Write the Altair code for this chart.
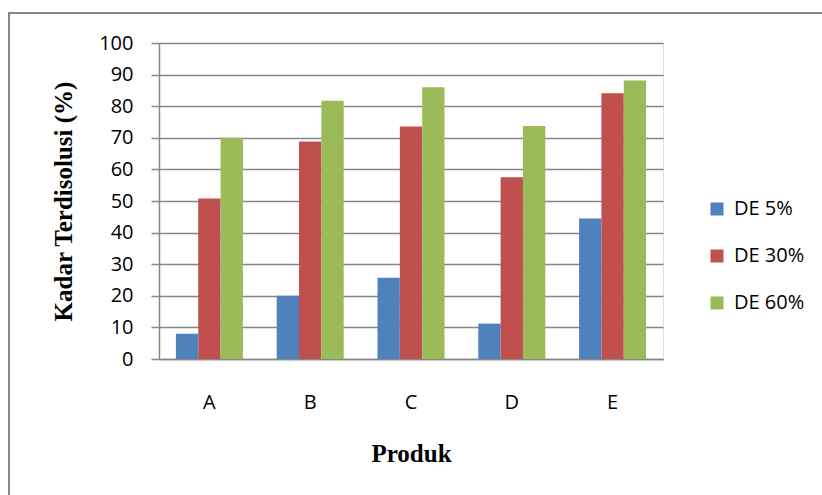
import altair as alt
import pandas as pd

produk = ["A", "B", "C", "D", "E"]
series = ["DE 5%", "DE 30%", "DE 60%"]
de5 = [8.0, 20.0, 25.7, 11.2, 44.5]
de30 = [50.8, 68.8, 73.6, 57.5, 84.1]
de60 = [70.0, 81.7, 86.0, 73.7, 88.1]
colors = ["#4F81BD", "#C0504D", "#9BBB59"]
y_ticks = list(range(0, 101, 10))

rows = []
for s, vals in zip(series, [de5, de30, de60]):
    for p, v in zip(produk, vals):
        rows.append({"Produk": p, "Seri": s, "Nilai": v})
df = pd.DataFrame(rows)

GRID = "#868686"

bars = alt.Chart(df).mark_bar().encode(
    x=alt.X(
        "Produk:N",
        sort=produk,
        scale=alt.Scale(paddingInner=0.335, paddingOuter=0.1675),
        axis=alt.Axis(
            title="Produk",
            labelAngle=0,
            ticks=False,
            tickSize=0,
            grid=False,
            domainColor=GRID,
            domainWidth=1.5,
            labelFont="Open Sans",
            labelFontSize=20,
            labelColor="#000000",
            labelBaseline="middle",
            labelPadding=43,
            titleFont="Liberation Serif",
            titleFontWeight="bold",
            titleFontSize=25,
            titleColor="#000000",
            titleY=94,
            titleBaseline="middle",
        ),
    ),
    xOffset=alt.XOffset("Seri:N", sort=series),
    y=alt.Y(
        "Nilai:Q",
        scale=alt.Scale(domain=[0, 100]),
        axis=alt.Axis(
            values=y_ticks,
            title="Kadar Terdisolusi (%)",
            grid=True,
            gridColor=GRID,
            gridWidth=1.5,
            tickColor=GRID,
            tickWidth=1.5,
            tickSize=8,
            domainColor=GRID,
            domainWidth=1.5,
            labelFont="Open Sans",
            labelFontSize=20,
            labelColor="#000000",
            labelPadding=18,
            titleFont="Liberation Serif",
            titleFontWeight="bold",
            titleFontSize=25,
            titleColor="#000000",
            titleX=-96,
            titleY=158,
            titleAngle=-90,
            titleAlign="center",
            titleBaseline="middle",
        ),
    ),
    color=alt.Color(
        "Seri:N",
        sort=series,
        scale=alt.Scale(domain=series, range=colors),
        legend=alt.Legend(
            title=None,
            orient="none",
            legendX=548,
            legendY=156,
            symbolType="square",
            symbolSize=169,
            symbolStrokeWidth=0,
            labelFont="Open Sans",
            labelFontSize=20,
            labelColor="#000000",
            labelOffset=7,
            rowPadding=27,
        ),
    ),
)

frame = alt.Chart(pd.DataFrame({"a": [0]})).mark_rect(
    fillOpacity=0, stroke=GRID, strokeWidth=2
).encode(
    x=alt.value(-150), x2=alt.value(690), y=alt.value(-30), y2=alt.value(480)
)

chart = alt.layer(frame, bars).properties(
    width=504,
    height=316,
    autosize=alt.AutoSizeParams(type="none"),
    padding={"left": 159, "top": 43, "right": 159, "bottom": 136},
).configure_view(stroke=None).configure(background="white")

chart.save("out.html", embed_options={"renderer": "svg", "actions": False})
